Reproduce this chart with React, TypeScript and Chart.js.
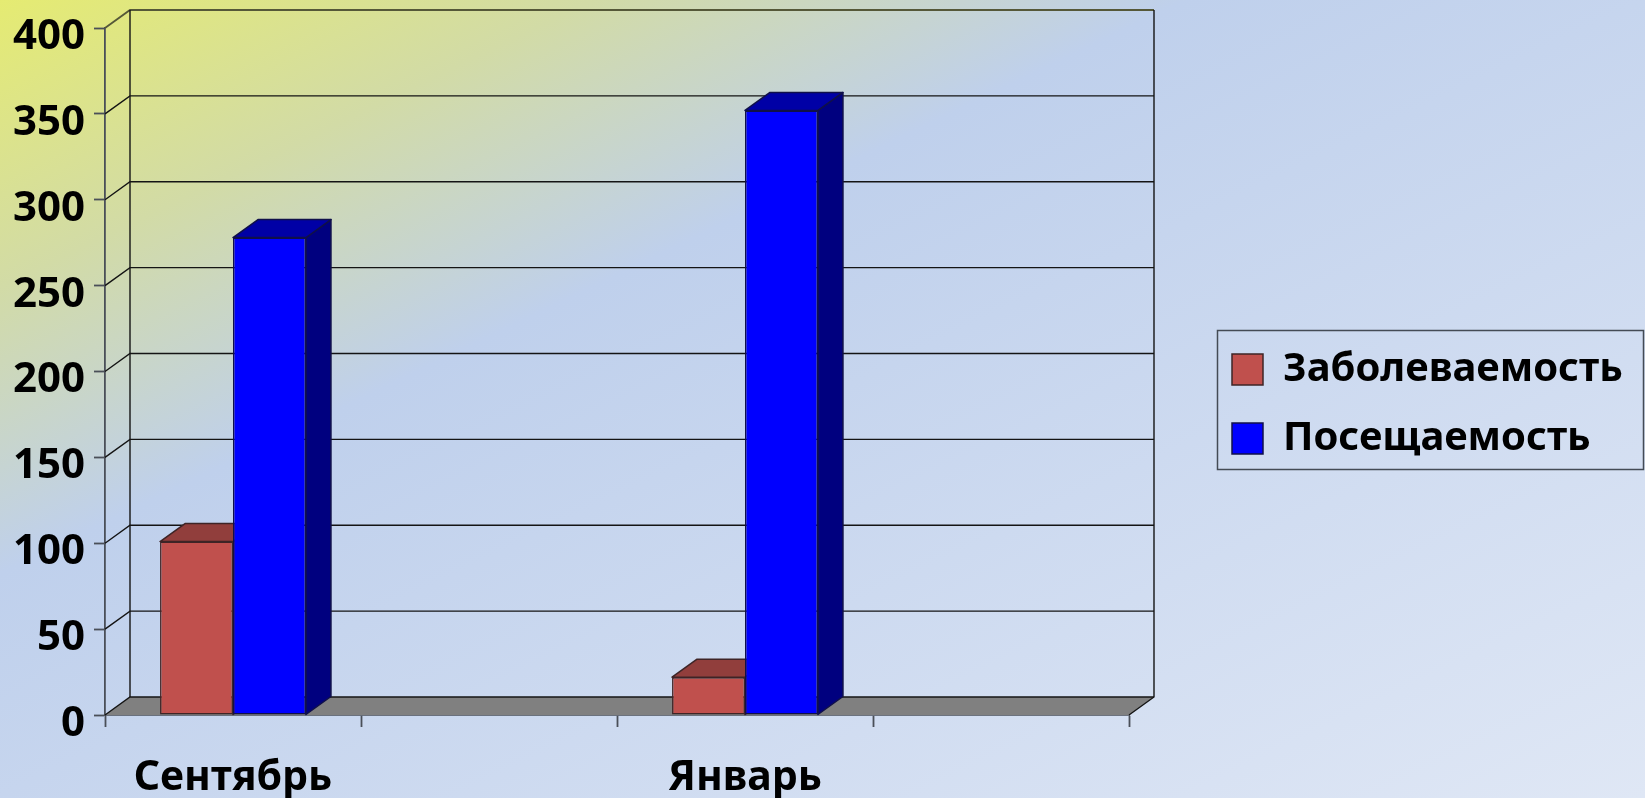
import React, { useEffect, useRef } from "react";
import { Chart, registerables } from "chart.js";

Chart.register(...registerables);

const categories = ["Сентябрь", "", "Январь", ""];
const seriesNames = ["Заболеваемость", "Посещаемость"];
const morbidity = [101, null, 22, null];
const attendance = [278, null, 352, null];
const yTicks = [0, 50, 100, 150, 200, 250, 300, 350, 400];

const W = 1645;
const H = 798;
const FONT = '"Noto Sans", sans-serif';
const DEPTH_X = 25;
const DEPTH_Y = -18;
const LEGEND_FRAME = { x: 1217.5, y: 330.5, w: 426, h: 139 };

const stylesFor = [
  { front: "#C0504D", top: "#913E3C", side: "#7A3331", edge: "#3E2426" },
  { front: "#0000FF", top: "#0000A6", side: "#00007F", edge: "#10104A" },
];

const scene = {
  id: "scene",
  beforeDraw(chart: any) {
    const { ctx } = chart;
    const g = ctx.createLinearGradient(0, 0, 624, 1291);
    g.addColorStop(0, "#E5EB72");
    g.addColorStop(0.18, "#D2DBA6");
    g.addColorStop(0.36, "#BFD0EC");
    g.addColorStop(1, "#DFE7F5");
    ctx.save();
    ctx.fillStyle = g;
    ctx.fillRect(0, 0, W, H);
    ctx.restore();
  },
  afterLayout(chart: any) {
    const l = chart.legend;
    if (!l) return;
    l.left = 1203;
    l.right = W;
    l.top = 320.5;
    l.bottom = H;
  },
  beforeDatasetsDraw(chart: any) {
    const { ctx, chartArea, scales } = chart;
    const { left, right } = chartArea;
    const y = scales.y;
    const base = y.getPixelForValue(0);
    const top = y.getPixelForValue(400);
    ctx.save();
    // floor
    ctx.fillStyle = "#808080";
    ctx.beginPath();
    ctx.moveTo(left, base);
    ctx.lineTo(left + DEPTH_X, base + DEPTH_Y);
    ctx.lineTo(right + DEPTH_X, base + DEPTH_Y);
    ctx.lineTo(right, base);
    ctx.closePath();
    ctx.fill();
    // grid on the back wall and the left wall
    for (const v of yTicks) {
      const p = y.getPixelForValue(v);
      ctx.strokeStyle = v === 400 ? "#555838" : "#141414";
      ctx.lineWidth = v === 400 ? 1.8 : 1.4;
      ctx.beginPath();
      ctx.moveTo(left, p);
      ctx.lineTo(left + DEPTH_X, p + DEPTH_Y);
      ctx.lineTo(right + DEPTH_X, p + DEPTH_Y);
      ctx.stroke();
    }
    ctx.strokeStyle = "#141414";
    ctx.lineWidth = 1.4;
    ctx.beginPath();
    ctx.moveTo(left + DEPTH_X, top + DEPTH_Y);
    ctx.lineTo(left + DEPTH_X, base + DEPTH_Y);
    ctx.moveTo(right + DEPTH_X, top + DEPTH_Y);
    ctx.lineTo(right + DEPTH_X, base + DEPTH_Y);
    ctx.lineTo(right, base);
    ctx.stroke();
    // side and top faces of the bars; the front faces are the library's own bars
    ctx.lineWidth = 1.5;
    ctx.lineJoin = "round";
    chart.data.datasets.forEach((ds: any, di: number) => {
      const st = stylesFor[di];
      ctx.strokeStyle = st.edge;
      chart.getDatasetMeta(di).data.forEach((el: any, i: number) => {
        if (ds.data[i] == null) return;
        const l = el.x - el.width / 2;
        const r = el.x + el.width / 2;
        const t = el.y;
        const b = el.base;
        ctx.fillStyle = st.side;
        ctx.beginPath();
        ctx.moveTo(r, t);
        ctx.lineTo(r + DEPTH_X, t + DEPTH_Y);
        ctx.lineTo(r + DEPTH_X, b + DEPTH_Y);
        ctx.lineTo(r, b);
        ctx.closePath();
        ctx.fill();
        ctx.stroke();
        ctx.fillStyle = st.top;
        ctx.beginPath();
        ctx.moveTo(l, t);
        ctx.lineTo(l + DEPTH_X, t + DEPTH_Y);
        ctx.lineTo(r + DEPTH_X, t + DEPTH_Y);
        ctx.lineTo(r, t);
        ctx.closePath();
        ctx.fill();
        ctx.stroke();
      });
    });
    ctx.restore();
  },
  afterDraw(chart: any) {
    const { ctx } = chart;
    ctx.save();
    ctx.strokeStyle = "#444B55";
    ctx.lineWidth = 1.5;
    ctx.strokeRect(LEGEND_FRAME.x, LEGEND_FRAME.y, LEGEND_FRAME.w, LEGEND_FRAME.h);
    ctx.restore();
  },
};

export default function App() {
  const ref = useRef<HTMLCanvasElement | null>(null);
  useEffect(() => {
    const chart = new Chart(ref.current as HTMLCanvasElement, {
      type: "bar",
      data: {
        labels: categories,
        datasets: [
          {
            label: seriesNames[0],
            data: morbidity,
            backgroundColor: stylesFor[0].front,
            borderColor: stylesFor[0].edge,
            borderWidth: 1.5,
            borderSkipped: false,
          },
          {
            label: seriesNames[1],
            data: attendance,
            backgroundColor: stylesFor[1].front,
            borderColor: stylesFor[1].edge,
            borderWidth: 1.5,
            borderSkipped: false,
          },
        ],
      },
      options: {
        responsive: false,
        animation: false,
        events: [],
        layout: { padding: { top: 28, right: W - 1129, left: 0, bottom: 0 } },
        datasets: { bar: { categoryPercentage: 0.57, barPercentage: 1 } },
        plugins: {
          title: { display: false },
          tooltip: { enabled: false },
          legend: {
            display: true,
            position: "chartArea",
            align: "start",
            labels: {
              boxWidth: 31,
              boxHeight: 31,
              padding: 29,
              color: "#000",
              font: { family: FONT, size: 40, weight: "bold" },
            },
          },
        },
        scales: {
          x: {
            offset: true,
            afterFit: (s: any) => {
              s.height = H - 715;
              s.paddingLeft = 0;
              s.paddingRight = 0;
            },
            border: { color: "#4A4F58", width: 1.8 },
            grid: {
              offset: true,
              drawOnChartArea: false,
              drawTicks: true,
              tickLength: 12,
              tickColor: "#4A4F58",
              tickWidth: 1.8,
            },
            ticks: {
              autoSkip: false,
              maxRotation: 0,
              padding: 27,
              color: "#000",
              font: { family: FONT, size: 41, weight: "bold" },
            },
          },
          y: {
            min: 0,
            max: 400,
            afterFit: (s: any) => {
              s.width = 105;
              s.paddingTop = 0;
              s.paddingBottom = 0;
            },
            afterBuildTicks: (s: any) => {
              s.ticks = yTicks.map((value) => ({ value }));
            },
            border: { color: "#4A4F58", width: 1.8 },
            grid: {
              drawOnChartArea: false,
              drawTicks: true,
              tickLength: 11,
              tickColor: "#4A4F58",
              tickWidth: 1.8,
            },
            ticks: {
              stepSize: 50,
              padding: 9,
              labelOffset: 9,
              color: "#000",
              font: { family: FONT, size: 42, weight: "bold" },
            },
          },
        },
      },
      plugins: [scene],
    } as any);
    return () => chart.destroy();
  }, []);
  return (
    <canvas
      ref={ref}
      width={W}
      height={H}
      style={{ position: "fixed", left: 0, top: 0, display: "block" }}
    />
  );
}
